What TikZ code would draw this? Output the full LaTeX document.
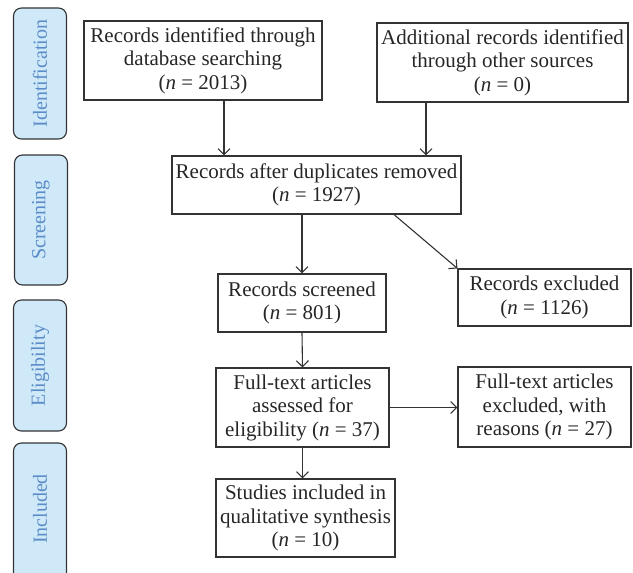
\documentclass[tikz,border=0pt]{standalone}
\usepackage{fontspec}
\setmainfont{Liberation Serif}
\usetikzlibrary{arrows.meta,calc}
\definecolor{sidefill}{HTML}{CFE9F9}
\definecolor{sidetext}{HTML}{5B8CC8}
\definecolor{linegray}{HTML}{333333}
\begin{document}
\begin{tikzpicture}[x=1pt,y=-1pt,
  box/.style={draw=linegray,line width=1.1pt,inner sep=0pt,align=center,
    font=\fontsize{21}{23.5}\selectfont,text=black!85},
  side/.style={draw=linegray,line width=1.1pt,fill=sidefill,rounded corners=8pt,
    inner sep=0pt,minimum width=53pt},
  sidelabel/.style={rotate=90,text=sidetext,font=\fontsize{20}{24}\selectfont,inner sep=0pt},
  conn/.style={draw=linegray,line width=1.1pt,-{Straight Barb[length=6pt,width=12pt]}}]
\useasboundingbox (0,0) rectangle (633,573);
% side boxes
\node[side,minimum height=131pt] (sid) at (40,73.5) {};
\node[sidelabel] at (sid.center) {Identification};
\node[side,minimum height=130pt] (ssc) at (41,220) {};
\node[sidelabel] at (ssc.center) {Screening};
\node[side,minimum height=131pt] (sel) at (40,365.5) {};
\node[sidelabel] at (sel.center) {Eligibility};
\node[side,minimum height=140pt] (sin) at (40,513) {};
\node[sidelabel] at (sin.center |- 0,509) {Included};
% main boxes
\node[box,minimum width=238pt,minimum height=79pt] (b1) at (203,60.5)
  {Records identified through\\database searching\\(\textit{n} = 2013)};
\node[box,minimum width=251pt,minimum height=79pt] (b2) at (502.5,62.5)
  {Additional records identified\\through other sources\\(\textit{n} = 0)};
\node[box,minimum width=289pt,minimum height=58pt] (dup) at (316.5,185)
  {Records after duplicates removed\\(\textit{n} = 1927)};
\node[box,minimum width=168pt,minimum height=58pt] (scr) at (302,303)
  {Records screened\\(\textit{n} = 801)};
\node[box,minimum width=173pt,minimum height=57pt] (exc) at (544.5,297.5)
  {Records excluded\\(\textit{n} = 1126)};
\node[box,minimum width=173pt,minimum height=79pt] (ft) at (302.5,407.5)
  {Full-text articles\\assessed for\\eligibility (\textit{n} = 37)};
\node[box,minimum width=173pt,minimum height=80pt] (fte) at (544.5,407)
  {Full-text articles\\excluded, with\\reasons (\textit{n} = 27)};
\node[box,minimum width=179pt,minimum height=78pt] (stu) at (305.5,518)
  {Studies included in\\qualitative synthesis\\(\textit{n} = 10)};
% connectors
\draw[conn] ([xshift=21pt]b1.south) -- ([xshift=21pt]b1.south |- dup.north);
\draw[conn] ([xshift=-76.5pt]b2.south) -- ([xshift=-76.5pt]b2.south |- dup.north);
\draw[conn] (scr.north |- dup.south) -- (scr.north);
\draw[conn] ([xshift=77.5pt]dup.south) -- (exc.north west);
\draw[conn] (scr.south) -- (ft.north);
\draw[conn] (ft.east) -- (ft.east -| fte.west);
\draw[conn] (ft.south) -- (ft.south |- stu.north);
\end{tikzpicture}
\end{document}
